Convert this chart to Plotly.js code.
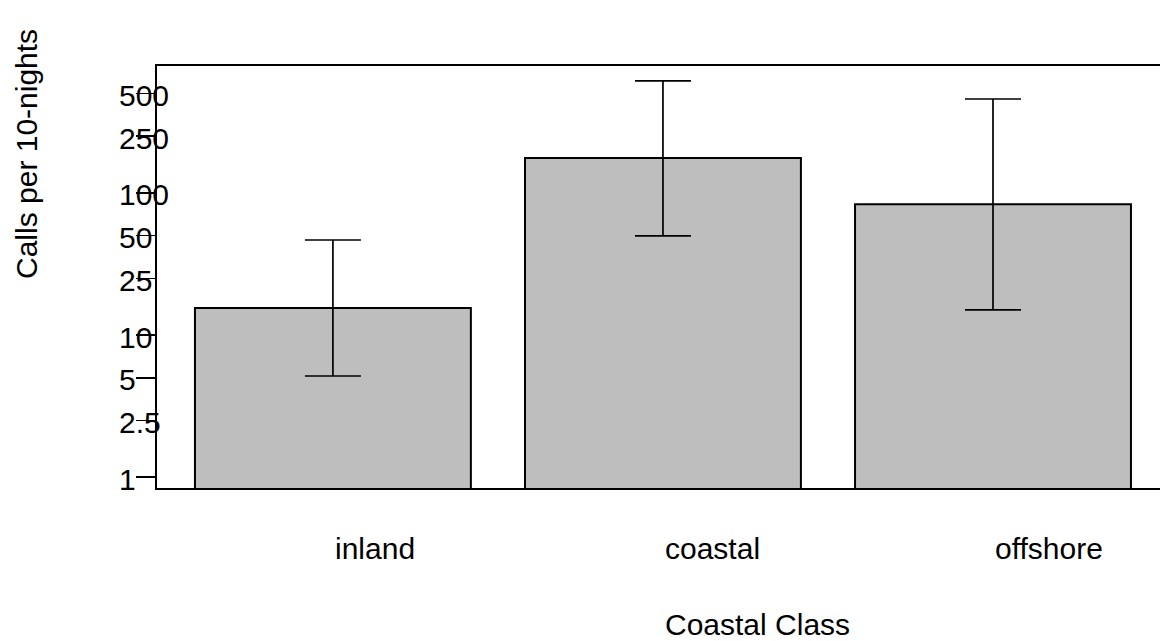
<!DOCTYPE html>
<html>
<head>
<meta charset="utf-8">
<script src="https://cdn.plot.ly/plotly-3.0.1.min.js"></script>
<style>html,body{margin:0;padding:0;background:#fff;}#chart{width:1160px;height:641px;}</style>
</head>
<body>
<div id="chart"></div>
<script>
const categories = ['inland', 'coastal', 'offshore'];
const meanCalls = [15.5, 176, 83];
const upperCI = [46.6, 612, 457];
const lowerCI = [5.15, 49.8, 15.0];
const yTickVals = [1, 2.5, 5, 10, 25, 50, 100, 250, 500];
const yTickText = ['1', '2.5', '5', '10', '25', '50', '100', '250', '500'];
const xTitle = 'Coastal Class';
const yTitle = 'Calls per 10-nights';

const FONT = 'Liberation Sans, Arial, sans-serif';
const FS = 30;
const xIdx = categories.map((c, i) => i);

const trace = {
  type: 'bar',
  x: xIdx,
  y: meanCalls,
  width: 0.836,
  marker: { color: '#bebebe', line: { color: '#000', width: 2 } },
  error_y: {
    type: 'data',
    symmetric: false,
    array: meanCalls.map((m, i) => upperCI[i] - m),
    arrayminus: meanCalls.map((m, i) => m - lowerCI[i]),
    color: '#000',
    thickness: 1.7,
    width: 28
  },
  hoverinfo: 'skip'
};

const annotations = [];
yTickVals.forEach((v, i) => {
  annotations.push({
    xref: 'paper', yref: 'y', x: 0, y: Math.log10(v),
    xshift: -40, yshift: -2,
    xanchor: 'left', yanchor: 'middle',
    text: yTickText[i], showarrow: false,
    font: { family: FONT, size: FS, color: '#000' }
  });
});
categories.forEach((c, i) => {
  annotations.push({
    xref: 'x', yref: 'paper', x: i, y: (488 - 548) / 422,
    xanchor: 'left', yanchor: 'middle',
    text: c, showarrow: false,
    font: { family: FONT, size: FS, color: '#000' }
  });
});
annotations.push({
  xref: 'x', yref: 'paper', x: 1, y: (488 - 624) / 422,
  xanchor: 'left', yanchor: 'middle',
  text: xTitle, showarrow: false,
  font: { family: FONT, size: FS, color: '#000' }
});
annotations.push({
  xref: 'paper', yref: 'paper', x: (26 - 157) / 1003, y: (488 - 281) / 422,
  xanchor: 'center', yanchor: 'bottom', textangle: -90,
  text: yTitle, showarrow: false,
  font: { family: FONT, size: FS, color: '#000' }
});

const layout = {
  width: 1160, height: 641,
  margin: { l: 157, r: 0, t: 66, b: 153, pad: 0 },
  paper_bgcolor: '#fff', plot_bgcolor: '#fff',
  showlegend: false,
  font: { family: FONT, size: FS, color: '#000' },
  xaxis: {
    type: 'linear', range: [-0.533, 2.506],
    showline: true, mirror: true, linecolor: '#000', linewidth: 2,
    ticks: '', showticklabels: false, showgrid: false, zeroline: false
  },
  yaxis: {
    type: 'log', range: [-0.076, 2.892],
    tickmode: 'array', tickvals: yTickVals, ticktext: yTickText,
    ticks: 'outside', ticklen: 19, tickwidth: 1.7, tickcolor: '#000',
    showticklabels: false,
    showline: true, linecolor: '#000', linewidth: 2,
    showgrid: false, zeroline: false
  },
  annotations: annotations
};

Plotly.newPlot('chart', [trace], layout, { staticPlot: true, displayModeBar: false });
</script>
</body>
</html>
